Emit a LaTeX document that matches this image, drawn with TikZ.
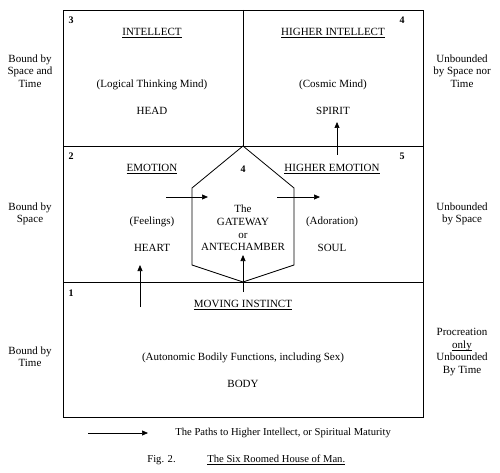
\documentclass[tikz,border=0pt]{standalone}
\usepackage{fontspec}
\setmainfont{Liberation Serif}
\usetikzlibrary{arrows.meta}

% underline at a fixed depth
\newsavebox{\ulsave}
\newcommand{\ulbox}[1]{\sbox{\ulsave}{#1}\rlap{\rule[-1.8pt]{\wd\ulsave}{0.5pt}}\usebox{\ulsave}}

\tikzset{
  roomtext/.style={inner sep=0pt, align=center, font=\fontsize{11}{12.6}\selectfont},
  roomnum/.style={inner sep=0pt, font=\fontsize{10}{12}\selectfont\bfseries},
  sidetext/.style={inner sep=0pt, align=center, font=\fontsize{11}{12.4}\selectfont},
  keytext/.style={inner sep=0pt, anchor=west, font=\fontsize{10.6}{12}\selectfont},
  pathto/.style={-{Triangle[length=6pt,width=5pt]}, line width=0.7pt},
}

\begin{document}
\begin{tikzpicture}[x=1pt, y=-1pt, line width=0.8pt]
  \useasboundingbox (0,0) rectangle (500,473);

  % --- rooms ---
  \draw (63,10) rectangle (423,417);
  \draw (63,146) -- (423,146);
  \draw (63,282) -- (423,282);
  \draw (243,10) -- (243,146);

  % --- gateway (hexagon) ---
  \draw (243,146) -- (294,188) -- (294,265) -- (243,282)
        -- (192,265) -- (192,188) -- cycle;

  % --- room 3 : intellect ---
  \node[roomnum] (n3) at (71,20) {3};
  \node[roomtext] (intellect) at (152,33) {\ulbox{INTELLECT}};
  \node[roomtext] (logical) at (152,85) {(Logical Thinking Mind)};
  \node[roomtext] (head) at (152,111) {HEAD};

  % --- room 4 : higher intellect ---
  \node[roomnum] (n4top) at (402,20) {4};
  \node[roomtext] (hintellect) at (333,33) {\ulbox{HIGHER INTELLECT}};
  \node[roomtext] (cosmic) at (333,85) {(Cosmic Mind)};
  \node[roomtext] (spirit) at (333,111) {SPIRIT};

  % --- room 2 : emotion ---
  \node[roomnum] (n2) at (71,156) {2};
  \node[roomtext] (emotion) at (152,169) {\ulbox{EMOTION}};
  \node[roomtext] (feelings) at (152,222) {(Feelings)};
  \node[roomtext] (heart) at (152,248) {HEART};

  % --- room 4 : gateway ---
  \node[roomnum] (n4hex) at (243,169) {4};
  \node[roomtext] (gateway) at (243,228) {The\\GATEWAY\\or\\ANTECHAMBER};

  % --- room 5 : higher emotion ---
  \node[roomnum] (n5) at (402,156) {5};
  \node[roomtext] (hemotion) at (332,169) {\ulbox{HIGHER EMOTION}};
  \node[roomtext] (adoration) at (332,222) {(Adoration)};
  \node[roomtext] (soul) at (332,248) {SOUL};

  % --- room 1 : moving instinct ---
  \node[roomnum] (n1) at (71,293) {1};
  \node[roomtext] (moving) at (243,305) {\ulbox{MOVING INSTINCT}};
  \node[roomtext] (autonomic) at (243,358) {(Autonomic Bodily Functions, including Sex)};
  \node[roomtext] (body) at (243,384) {BODY};

  % --- side labels ---
  \node[sidetext] (lefttop) at (30,71) {Bound by\\Space and\\Time};
  \node[sidetext] (leftmid) at (30,214) {Bound by\\Space};
  \node[sidetext] (leftbot) at (30,357) {Bound by\\Time};
  \node[sidetext] (righttop) at (462,71) {Unbounded\\by Space nor\\Time};
  \node[sidetext] (rightmid) at (462,214) {Unbounded\\by Space};
  \node[sidetext] (rightbot) at (462,352) {Procreation\\\ulbox{only}\\Unbounded\\By Time};

  % --- paths ---
  \coordinate (heartfrom) at (140,307);
  \coordinate (heartto) at (140,265);
  \coordinate (gatefrom) at (243,292);
  \coordinate (gateto) at (243,255);
  \coordinate (emofrom) at (166,197);
  \coordinate (emoto) at (208,197);
  \coordinate (soulfrom) at (277,197);
  \coordinate (soulto) at (320,197);
  \coordinate (spiritfrom) at (337,155);
  \coordinate (spiritto) at (337,122);
  \draw[pathto] (heartfrom) -- (heartto);
  \draw[pathto] (gatefrom) -- (gateto);
  \draw[pathto] (emofrom) -- (emoto);
  \draw[pathto] (soulfrom) -- (soulto);
  \draw[pathto] (spiritfrom) -- (spiritto);

  % --- legend and caption ---
  \coordinate (keyfrom) at (88,433);
  \coordinate (keyto) at (148,433);
  \draw[pathto] (keyfrom) -- (keyto);
  \node[keytext] (key) at (175,433)
    {The Paths to Higher Intellect, or Spiritual Maturity};
  \node[keytext] (fig) at (147,460) {Fig. 2.};
  \node[keytext] (caption) at (207,460) {\ulbox{The Six Roomed House of Man.}};

\end{tikzpicture}
\end{document}
